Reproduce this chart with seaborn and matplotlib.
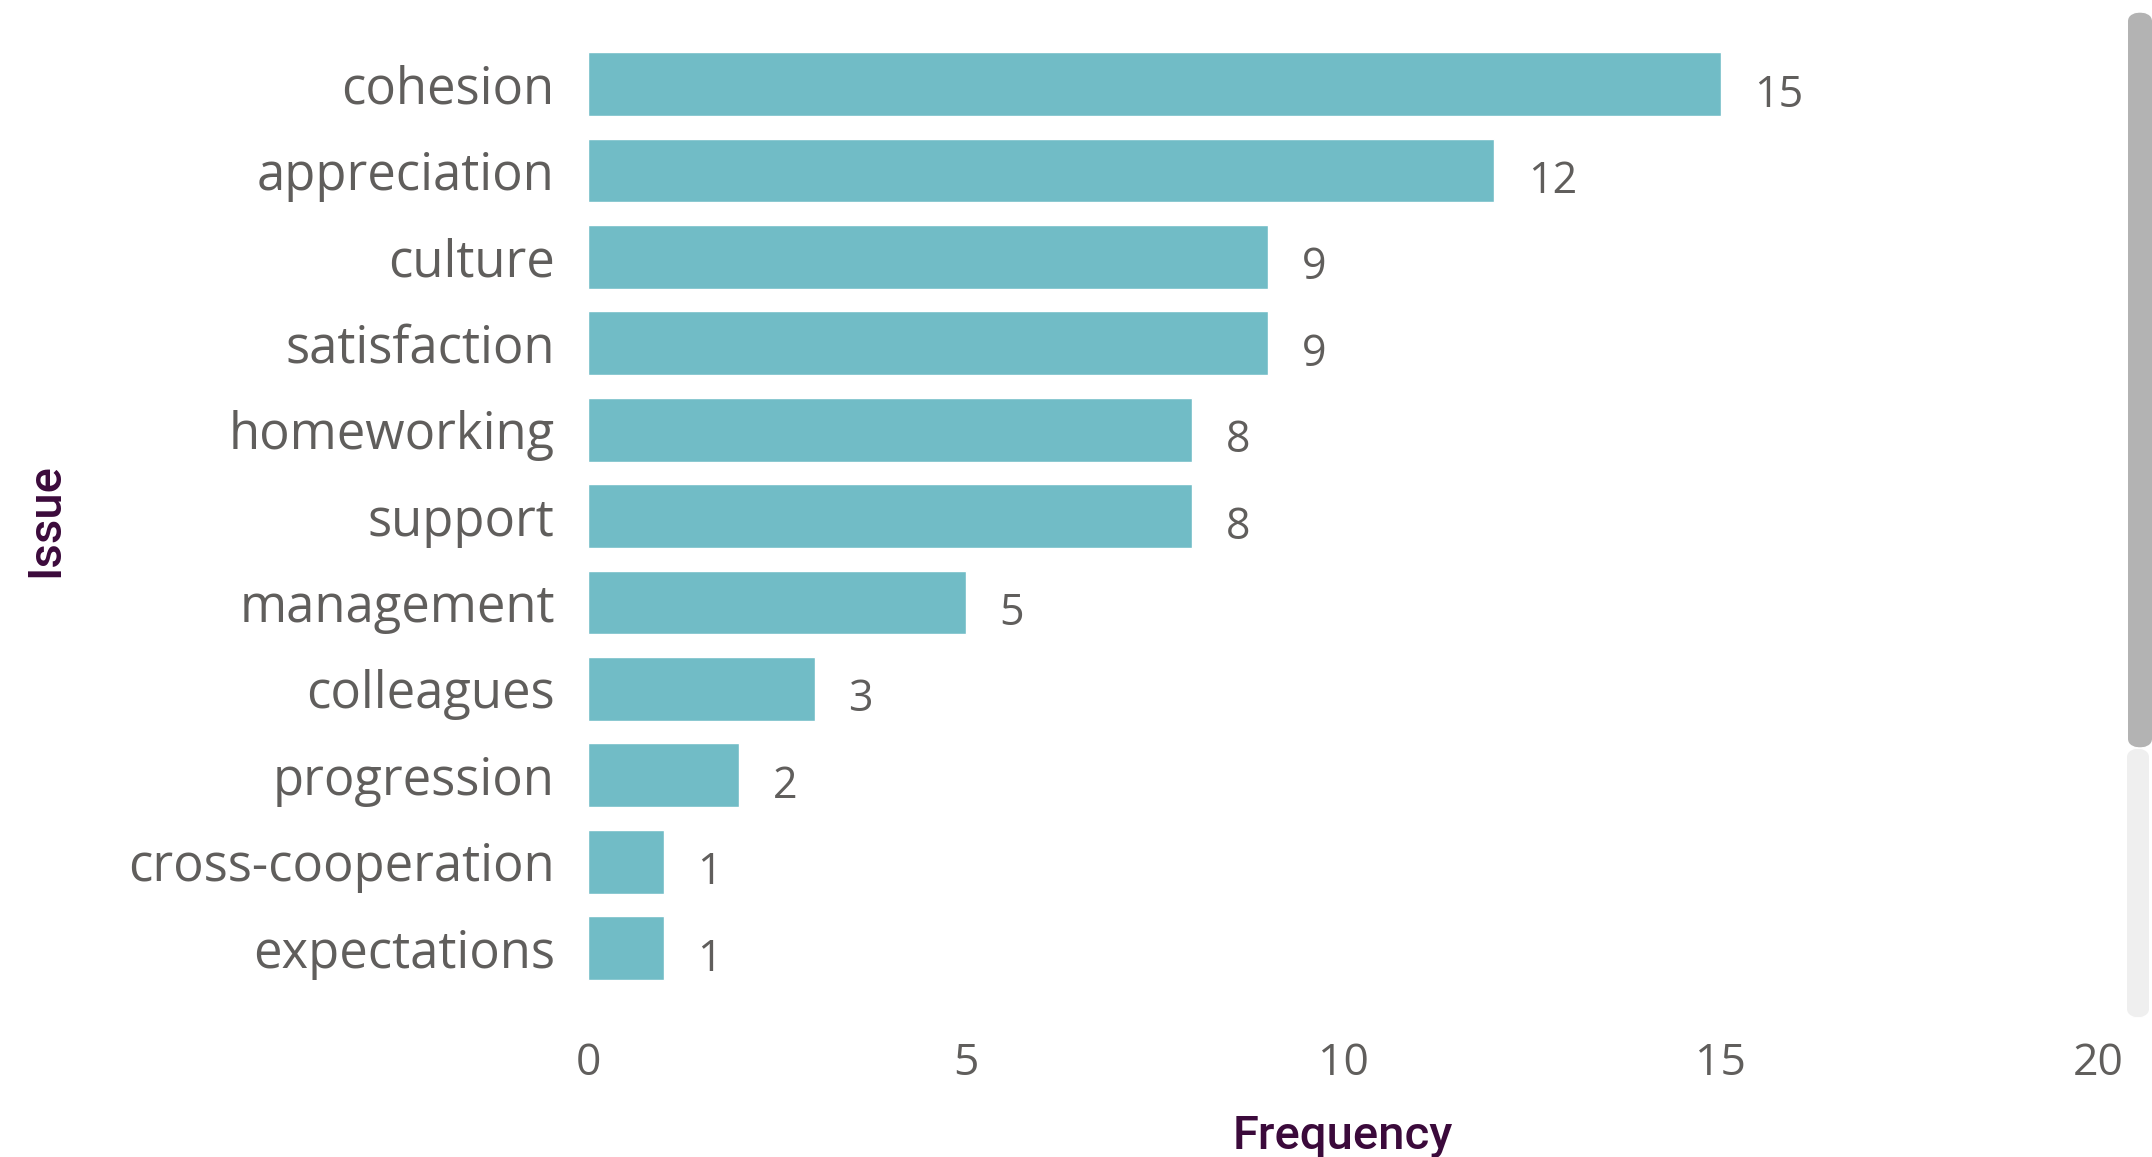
import pandas as pd
import matplotlib.pyplot as plt
import seaborn as sns
from matplotlib.patches import FancyBboxPatch

issues = ['cohesion', 'appreciation', 'culture', 'satisfaction', 'homeworking', 'support',
          'management', 'colleagues', 'progression', 'cross-cooperation', 'expectations']
frequency = [15, 12, 9, 9, 8, 8, 5, 3, 2, 1, 1]
x_ticks = [0, 5, 10, 15, 20]

df = pd.DataFrame({'Issue': issues, 'Frequency': frequency})

sns.set_theme(style='white')
plt.rcParams['font.family'] = ['Open Sans', 'DejaVu Sans']

fig = plt.figure(figsize=(21.52, 11.57), dpi=100)
ax = fig.add_axes([588 / 2152, 1 - 1000 / 1157, (2098 - 588) / 2152, (1000 - 40) / 1157])

sns.barplot(data=df, x='Frequency', y='Issue', color='#71bcc6', width=0.74, ax=ax, saturation=1)

for i, v in enumerate(frequency):
    ax.text(v + 0.45, i + 0.13, str(v), va='center', ha='left', fontsize=31, color='#605e5c')

ax.set_xlim(0, 20)
ax.set_ylim(10.6, -0.51)
ax.set_xticks(x_ticks)
ax.tick_params(axis='x', labelsize=32, colors='#605e5c', length=0, pad=30)
ax.tick_params(axis='y', labelsize=36.5, colors='#605e5c', length=0, pad=24)
for s in ax.spines.values():
    s.set_visible(False)

ax.set_xlabel('Frequency', fontsize=34, color='#3b0a3b', family=['Roboto', 'DejaVu Sans'],
              fontweight='medium', labelpad=20)
ax.set_ylabel('Issue', fontsize=34, color='#3b0a3b', family=['Roboto', 'DejaVu Sans'],
              fontweight='medium')
ax.yaxis.set_label_coords(-0.345, 0.5)

# scrollbar on the right
fig.patches.append(FancyBboxPatch((2127 / 2152, 1 - 1018 / 1157), 22 / 2152, 270 / 1157,
                                  boxstyle='round,pad=0,rounding_size=0.008', transform=fig.transFigure,
                                  facecolor='#efefef', edgecolor='none'))
fig.patches.append(FancyBboxPatch((2128 / 2152, 1 - 748 / 1157), 24 / 2152, 736 / 1157,
                                  boxstyle='round,pad=0,rounding_size=0.008', transform=fig.transFigure,
                                  facecolor='#b3b3b3', edgecolor='none'))

plt.savefig('out.png', dpi=100)
